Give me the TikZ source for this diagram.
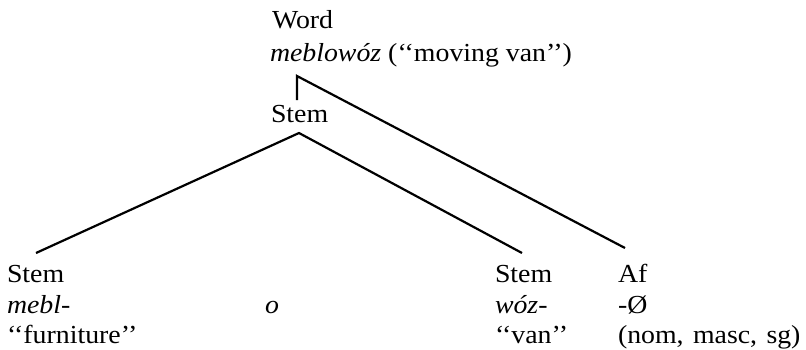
\documentclass[tikz,border=0pt]{standalone}
\usepackage{fontspec}
\setmainfont[FakeStretch=1.07]{Liberation Serif}
\begin{document}
\begin{tikzpicture}[x=1pt,y=-1pt,
  lbl/.style={anchor=base west,inner sep=0pt,outer sep=0pt,font=\fontsize{26}{31}\selectfont},
  edge/.style={line width=2.2pt,line join=miter}]
\useasboundingbox (0,0) rectangle (806,349);
% top
\node[lbl] (word) at (272,28) {Word};
\node[lbl] (wordform) at (270,61) {\textit{meblowóz} (`{}`moving van'{}')};
\node[lbl] (stemtop) at (271,122) {Stem};
% bottom
\node[lbl] (stemL) at (7,282) {Stem};
\node[lbl] (stemLform) at (7,313) {\textit{mebl-}};
\node[lbl] (stemLgloss) at (7,343) {`{}`furniture'{}'};
\node[lbl] (link) at (265,313) {\textit{o}};
\node[lbl] (stemR) at (495,282) {Stem};
\node[lbl] (stemRform) at (495,313) {\textit{wóz-}};
\node[lbl] (stemRgloss) at (495,343) {`{}`van'{}'};
\node[lbl] (af) at (618,282) {Af};
\node[lbl] (afform) at (618,313) {-Ø};
\node[lbl] (afgloss) at (618,343) {\spaceskip=0.36em (nom, masc, sg)};
% connector points
\coordinate (topc) at (297,76);
\coordinate (topd) at (297,100);
\coordinate (apex) at (299,133);
\coordinate (endL) at (36,253);
\coordinate (endR) at (522,253);
\coordinate (endAf) at (625,248);
\draw[edge] (topd) -- (topc) -- (endAf);
\draw[edge] (endL) -- (apex) -- (endR);
\end{tikzpicture}
\end{document}
